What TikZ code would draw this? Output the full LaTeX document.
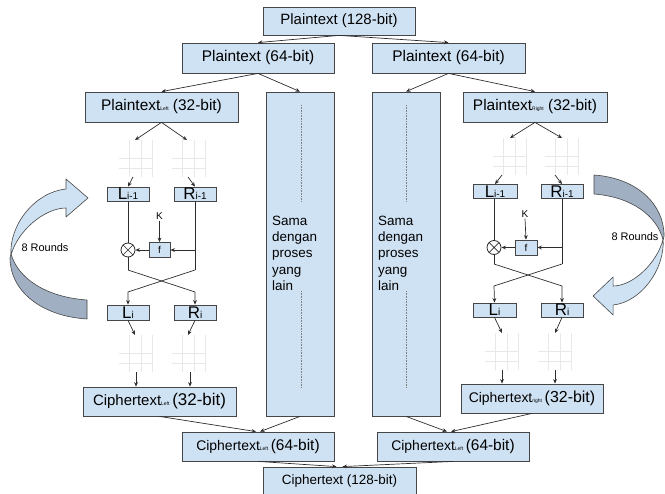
\documentclass[tikz,border=0pt]{standalone}
\usepackage{fontspec}
\setmainfont{Liberation Sans}
\usetikzlibrary{arrows.meta}
\definecolor{boxfill}{RGB}{207,226,243}
\definecolor{boxline}{RGB}{70,70,70}
\definecolor{arrowc}{RGB}{45,45,45}
\definecolor{darkrib}{RGB}{160,176,194}
\definecolor{gridc}{RGB}{232,232,232}
\newcommand\myfs[1]{\fontsize{#1}{#1}\selectfont}
\newcommand\tsub[1]{{\myfs{5}#1}}
\newcommand\ghostgrid[2]{%
  \begin{scope}[shift={(#1,#2)}]
    \draw[gridl] (10,0) -- (10,37) (22,0) -- (22,37) (33,0) -- (33,37)
                 (0,18) -- (33,18) (0,28) -- (33,28);
  \end{scope}}
\begin{document}
\begin{tikzpicture}[x=1bp,y=-1bp,
  box/.style={draw=boxline, line width=0.8bp, fill=boxfill, inner sep=0pt, anchor=center},
  conn/.style={draw=arrowc, line width=0.7bp, -{Stealth[length=4.5bp,width=3.8bp]}},
  plain/.style={draw=arrowc, line width=0.7bp},
  gridl/.style={draw=gridc, line width=0.6bp},
  dotl/.style={draw=gray, densely dotted, line width=0.6bp},
  xor/.style={circle, draw=arrowc, line width=0.8bp, minimum size=14bp, inner sep=0pt, fill=white},
  ribbon/.style={draw=boxline, line width=0.6bp, line join=round},
  sametext/.style={anchor=north west, align=left, inner sep=0pt, font=\fontsize{13.5}{16.2}\selectfont}]
\useasboundingbox (0,0) rectangle (665,494);

% ---------- top ----------
\node[box, minimum width=152bp, minimum height=28bp, font=\myfs{15}] (p128) at (339,21) {Plaintext (128-bit)};
\node[box, minimum width=152bp, minimum height=30bp, font=\myfs{15.5}] (p64l) at (258,58) {Plaintext (64-bit)};
\node[box, minimum width=153bp, minimum height=30bp, font=\myfs{15.5}] (p64r) at (448.5,58) {Plaintext (64-bit)};
\node[box, minimum width=153bp, minimum height=30bp, font=\myfs{15.5}] (pL) at (161.5,107) {Plaintext\tsub{Left} (32-bit)};
\node[box, minimum width=144bp, minimum height=30bp, font=\myfs{15.5}] (pR) at (535,107) {Plaintext\tsub{Right} (32-bit)};

% ---------- tall boxes ----------
\node[box, minimum width=68bp, minimum height=324bp] (tallL) at (300,254) {};
\node[box, minimum width=68bp, minimum height=324bp] (tallR) at (406,254) {};
\node[sametext] (txtL) at (272,216) {Sama\\dengan\\proses\\yang\\lain};
\node[sametext] (txtR) at (378,216) {Sama\\dengan\\proses\\yang\\lain};
\draw[dotl] (301,105) -- (301,202) (301,291) -- (301,387);
\draw[dotl] (406,105) -- (406,202) (406,291) -- (406,387);

% ---------- ghost grids ----------
\ghostgrid{119}{140}\ghostgrid{172}{140}
\ghostgrid{119}{335}\ghostgrid{172}{335}
\ghostgrid{493}{138}\ghostgrid{545}{138}
\ghostgrid{485}{333}\ghostgrid{538}{333}

% ---------- left Feistel ----------
\node[box, minimum width=42bp, minimum height=14bp] (Li1L) at (128,194) {\myfs{17}L\myfs{10}i-1};
\node[box, minimum width=42bp, minimum height=14bp] (Ri1L) at (195,194) {\myfs{17}R\myfs{10}i-1};
\node[box, minimum width=21bp, minimum height=15bp, font=\myfs{10}] (fL) at (159.5,250) {f};
\node[xor] (xorL) at (128,250) {};
\draw[arrowc, line width=0.7bp] (xorL.north west) -- (xorL.south east) (xorL.north east) -- (xorL.south west);
\node[font=\myfs{10}, inner sep=1bp] (KL) at (159.5,216) {K};
\node[box, minimum width=42bp, minimum height=15bp] (LiL) at (128,312.5) {\myfs{17}L\myfs{10}i};
\node[box, minimum width=42bp, minimum height=15bp] (RiL) at (195,312.5) {\myfs{17}R\myfs{10}i};
\node[box, minimum width=153bp, minimum height=29bp] (cL32) at (159.5,401.5) {\myfs{15}Ciphertext\tsub{Left}\myfs{17}\,(32-bit)};

\coordinate (rLa) at (195,250);
\coordinate (rLb) at (195,270);
\coordinate (lLb) at (128,270);
\coordinate (lLc) at (128,292);
\coordinate (rLc) at (195,292);
\draw[plain] (Li1L.south) -- (xorL.north);
\draw[plain] (Ri1L.south) -- (rLb);
\draw[conn] (rLa) -- (fL.east);
\draw[conn] (fL.west) -- (xorL.east);
\draw[conn] (KL.south) -- (fL.north);
\draw[plain] (xorL.south) -- (lLb);
\draw[conn] (lLb) -- (rLc) -- (RiL.north);
\draw[conn] (rLb) -- (lLc) -- (LiL.north);

\coordinate (gA1t) at (135,140); \coordinate (gA2t) at (187,140);
\coordinate (gA1b) at (133,177); \coordinate (gA2b) at (188,177);
\coordinate (gB1t) at (135,335); \coordinate (gB2t) at (188,335);
\coordinate (gB1b) at (136,372); \coordinate (gB2b) at (190,372);
\draw[conn] (pL.south) -- (gA1t);
\draw[conn] (pL.south) -- (gA2t);
\draw[conn] (gA1b) -- (Li1L.north);
\draw[conn] (gA2b) -- (Ri1L.north);
\draw[conn] (LiL.south) -- (gB1t);
\draw[conn] (RiL.south) -- (gB2t);
\draw[conn] (gB1b) -- (gB1b |- cL32.north);
\draw[conn] (gB2b) -- (gB2b |- cL32.north);

% ---------- right Feistel ----------
\node[box, minimum width=44bp, minimum height=14bp] (Li1R) at (495,191.5) {\myfs{17}L\myfs{10}i-1};
\node[box, minimum width=42bp, minimum height=14bp] (Ri1R) at (562,191.5) {\myfs{17}R\myfs{10}i-1};
\node[box, minimum width=22bp, minimum height=15bp, font=\myfs{10}] (fR) at (526,247.5) {f};
\node[xor] (xorR) at (494,247.5) {};
\draw[arrowc, line width=0.7bp] (xorR.north west) -- (xorR.south east) (xorR.north east) -- (xorR.south west);
\node[font=\myfs{10}, inner sep=1bp] (KR) at (525,214) {K};
\node[box, minimum width=43bp, minimum height=14bp] (LiR) at (494.5,310) {\myfs{17}L\myfs{10}i};
\node[box, minimum width=42bp, minimum height=14bp] (RiR) at (562,310) {\myfs{17}R\myfs{10}i};
\node[box, minimum width=142bp, minimum height=29bp] (cR32) at (532,398.5) {\myfs{14}Ciphertext\tsub{right}\myfs{16}\,(32-bit)};

\coordinate (rRa) at (562,247.5);
\coordinate (rRb) at (562,264);
\coordinate (lRb) at (494,264);
\coordinate (lRc) at (494,286);
\coordinate (rRc) at (562,286);
\draw[plain] (xorR.north |- Li1R.south) -- (xorR.north);
\draw[plain] (Ri1R.south) -- (rRb);
\draw[conn] (rRa) -- (fR.east);
\draw[conn] (fR.west) -- (xorR.east);
\draw[conn] (KR.south) -- (fR.north);
\draw[plain] (xorR.south) -- (lRb);
\draw[conn] (lRb) -- (rRc) -- (RiR.north);
\draw[conn] (rRb) -- (lRc) -- (LiR.north);

\coordinate (gC1t) at (510,138); \coordinate (gC2t) at (562,138);
\coordinate (gC1b) at (502,175); \coordinate (gC2b) at (555,175);
\coordinate (gD1t) at (502,333); \coordinate (gD2t) at (555,333);
\coordinate (gD1b) at (502,370); \coordinate (gD2b) at (555,370);
\draw[conn] (pR.south) -- (gC1t);
\draw[conn] (pR.south) -- (gC2t);
\draw[conn] (gC1b) -- (Li1R.north);
\draw[conn] (gC2b) -- (Ri1R.north);
\draw[conn] (LiR.south) -- (gD1t);
\draw[conn] (RiR.south) -- (gD2t);
\draw[conn] (gD1b) -- (gD1b |- cR32.north);
\draw[conn] (gD2b) -- (gD2b |- cR32.north);

% ---------- bottom ----------
\node[box, minimum width=152bp, minimum height=29bp] (c64l) at (258,446.5) {\myfs{14}Ciphertext\tsub{Left}\myfs{15.5}\,(64-bit)};
\node[box, minimum width=152bp, minimum height=29bp] (c64r) at (453,446.5) {\myfs{14}Ciphertext\tsub{Left}\myfs{15.5}\,(64-bit)};
\node[box, minimum width=153bp, minimum height=29bp, font=\myfs{13.5}] (c128) at (339.5,481.5) {Ciphertext (128-bit)};

% ---------- top/bottom connectors ----------
\draw[conn] (p128.south) -- (p64l.north);
\draw[conn] (p128.south) -- (p64r.north);
\draw[conn] (p64l.south) -- (pL.north);
\draw[conn] (p64l.south) -- (tallL.north);
\draw[conn] (p64r.south) -- (tallR.north);
\draw[conn] (p64r.south) -- (pR.north);
\draw[conn] (cL32.south) -- ([xshift=-2bp]c64l.north);
\draw[conn] (tallL.south) -- ([xshift=2bp]c64l.north);
\draw[conn] (tallR.south) -- ([xshift=-6bp]c64r.north);
\draw[conn] (cR32.south) -- ([xshift=-2bp]c64r.north);
\draw[conn] (c64l.south) -- ([xshift=-3bp]c128.north);
\draw[conn] (c64r.south) -- ([xshift=3bp]c128.north);

% ---------- curved "8 Rounds" arrows ----------
\begin{scope}
  \fill[darkrib] (11,254) .. controls (18,278) and (45,297) .. (87,300) -- (87,319)
     .. controls (40,316) and (10,290) .. (10,258) -- cycle;
  \draw[ribbon] (11,254) .. controls (18,278) and (45,297) .. (87,300) -- (87,319)
     .. controls (40,316) and (10,290) .. (10,258) -- cycle;
  \fill[boxfill] (66,189) -- (66,179) -- (88,198) -- (66,217) -- (66,208)
     .. controls (45,208) and (18,230) .. (11,255)
     .. controls (9,225) and (35,192) .. (66,189) -- cycle;
  \draw[ribbon] (66,189) -- (66,179) -- (88,198) -- (66,217) -- (66,208)
     .. controls (45,208) and (18,230) .. (11,255)
     .. controls (9,225) and (35,192) .. (66,189) -- cycle;
\end{scope}
\begin{scope}[shift={(673.17,494)}, xscale=-0.91, yscale=-1]
  \fill[darkrib] (11,254) .. controls (18,278) and (45,297) .. (87,300) -- (87,319)
     .. controls (40,316) and (10,290) .. (10,258) -- cycle;
  \draw[ribbon] (11,254) .. controls (18,278) and (45,297) .. (87,300) -- (87,319)
     .. controls (40,316) and (10,290) .. (10,258) -- cycle;
  \fill[boxfill] (66,189) -- (66,179) -- (88,198) -- (66,217) -- (66,208)
     .. controls (45,208) and (18,230) .. (11,255)
     .. controls (9,225) and (35,192) .. (66,189) -- cycle;
  \draw[ribbon] (66,189) -- (66,179) -- (88,198) -- (66,217) -- (66,208)
     .. controls (45,208) and (18,230) .. (11,255)
     .. controls (9,225) and (35,192) .. (66,189) -- cycle;
\end{scope}
\node[font=\myfs{11}] (roundsL) at (45,248) {8 Rounds};
\node[font=\myfs{11}] (roundsR) at (635,237) {8 Rounds};
\end{tikzpicture}
\end{document}
